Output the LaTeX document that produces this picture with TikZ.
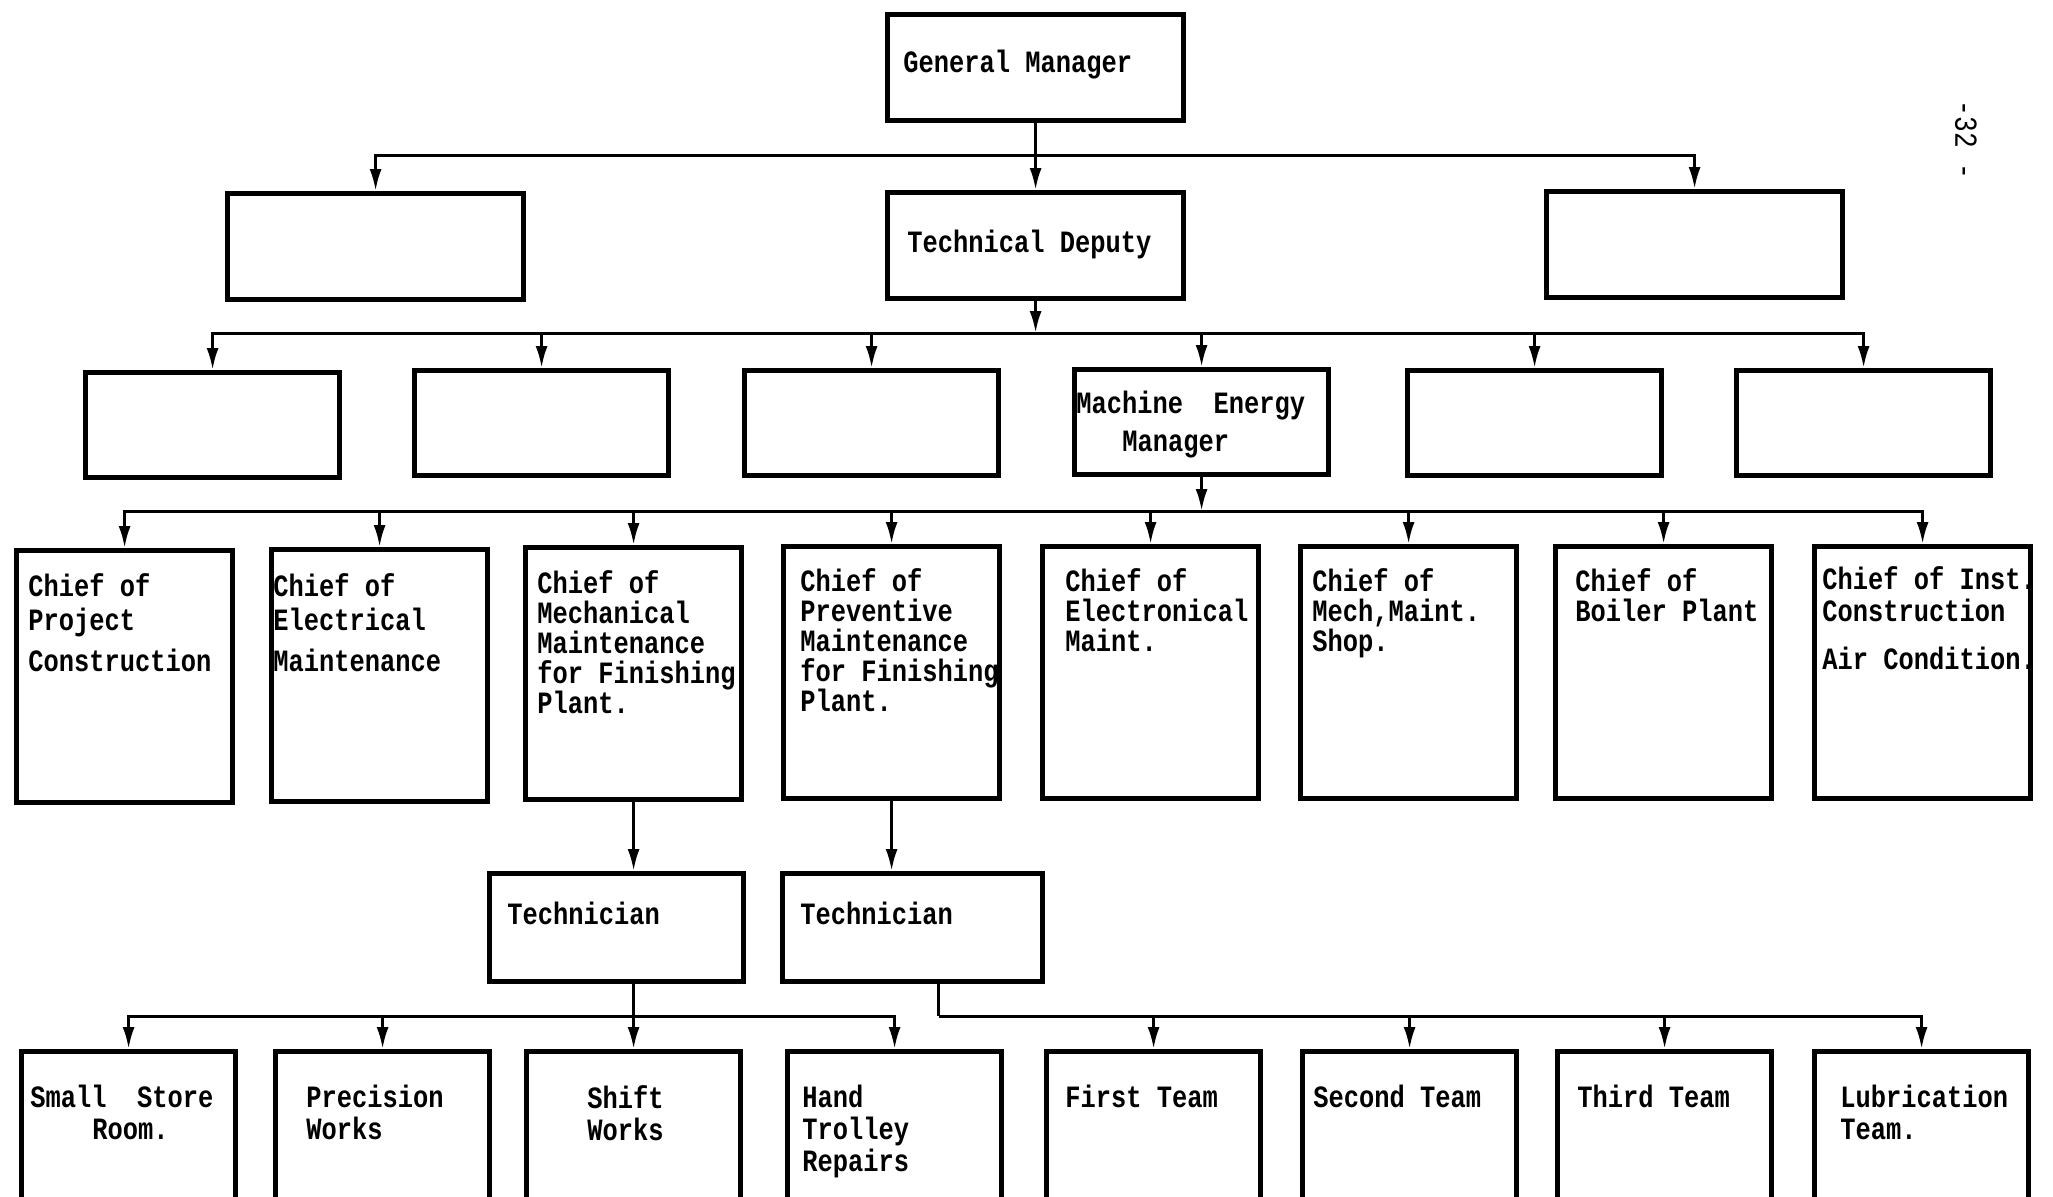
\documentclass[tikz,border=0pt]{standalone}
\usepackage{fontspec}
\newfontfamily\orgfont[FakeStretch=0.82]{Liberation Mono}
\usetikzlibrary{arrows.meta,positioning}

\begin{document}
\begin{tikzpicture}[x=0.5pt,y=-0.5pt,
		box/.style={draw,line width=2.6pt,anchor=north west,inner sep=0pt},
		gmbox/.style={box,minimum width=148pt,minimum height=53pt},
		dept/.style={box,minimum width=127pt,minimum height=52.5pt},
		chief/.style={box,minimum width=108pt,minimum height=126pt},
		techbox/.style={box,minimum width=127pt,minimum height=54pt},
		teambox/.style={box,minimum width=107pt,minimum height=100pt},
		txt/.style={anchor=north west,inner sep=0pt,align=left,font=\orgfont\bfseries\fontsize{15.5}{15}\selectfont},
		pagenum/.style={rotate=-90,inner sep=0pt,font=\orgfont\fontsize{16}{16}\selectfont},
		link/.style={line width=1.5pt,-{Latex[length=11pt,width=6pt]}},
		bar/.style={line width=1.5pt}]
	\useasboundingbox (0,0) rectangle (2053,1196);
	\clip (0,0) rectangle (2053,1196);
	\node [gmbox] (gm) at (885,12) {};
	\node [txt] (gm-t) at (903,50) {General Manager};
	\node [gmbox] (l) at (225,191) {};
	\node [gmbox] (td) at (885,190) {};
	\node [txt] (td-t) at (907,230) {Technical Deputy};
	\node [gmbox] (r) at (1544,189) {};
	\node [dept] (d1) at (83,370) {};
	\node [dept] (d2) at (412,368) {};
	\node [dept] (d3) at (742,368) {};
	\node [dept] (mem) at (1072,367) {};
	\node [txt] (mem-t) at (1076,391) {Machine~~Energy\\[4pt]\hspace*{23pt}Manager};
	\node [dept] (d5) at (1405,368) {};
	\node [dept] (d6) at (1734,368) {};
	\node [chief] (c1) at (14,548) {};
	\node [txt] (c1-t) at (28,573) {Chief of\\[2pt]Project\\[5.5pt]Construction};
	\node [chief] (c2) at (269,547) {};
	\node [txt] (c2-t) at (273,573) {Chief of\\[2pt]Electrical\\[5.5pt]Maintenance};
	\node [chief] (c3) at (523,545) {};
	\node [txt] (c3-t) at (537,570) {Chief of\\Mechanical\\Maintenance\\for Finishing\\Plant.};
	\node [chief] (c4) at (781,544) {};
	\node [txt] (c4-t) at (800,568) {Chief of\\Preventive\\Maintenance\\for Finishing\\Plant.};
	\node [chief] (c5) at (1040,544) {};
	\node [txt] (c5-t) at (1065,568) {Chief of\\Electronical\\Maint.};
	\node [chief] (c6) at (1298,544) {};
	\node [txt] (c6-t) at (1312,568) {Chief of\\Mech,Maint.\\Shop.};
	\node [chief] (c7) at (1553,544) {};
	\node [txt] (c7-t) at (1575,568) {Chief of\\Boiler Plant};
	\node [chief] (c8) at (1812,544) {};
	\node [txt] (c8-t) at (1822,566) {Chief of Inst.\\[1pt]Construction\\[9pt]Air Condition.};
	\node [techbox] (t1) at (487,871) {};
	\node [txt] (t1-t) at (507,902) {Technician};
	\node [techbox,minimum width=130pt] (t2) at (780,871) {};
	\node [txt] (t2-t) at (800,902) {Technician};
	\node [teambox] (w1) at (19,1049) {};
	\node [txt] (w1-t) at (30,1085) {Small~~Store\\[1pt]\hspace*{31pt}Room.};
	\node [teambox] (w2) at (273,1049) {};
	\node [txt] (w2-t) at (306,1085) {Precision\\[1pt]Works};
	\node [teambox] (w3) at (524,1049) {};
	\node [txt] (w3-t) at (587,1085) {Shift\\[1pt]Works};
	\node [teambox] (w4) at (785,1049) {};
	\node [txt] (w4-t) at (802,1085) {Hand\\[1pt]Trolley\\[1pt]Repairs};
	\node [teambox] (w5) at (1044,1049) {};
	\node [txt] (w5-t) at (1065,1085) {First Team};
	\node [teambox] (w6) at (1300,1049) {};
	\node [txt] (w6-t) at (1313,1085) {Second Team};
	\node [teambox] (w7) at (1555,1049) {};
	\node [txt] (w7-t) at (1577,1085) {Third Team};
	\node [teambox] (w8) at (1812,1049) {};
	\node [txt] (w8-t) at (1840,1085) {Lubrication\\[1pt]Team.};
	\node [pagenum] (pg) at (1966,140) {-32 -};
	\coordinate (bus1) at (0,155);
	\coordinate (bus2) at (0,333);
	\coordinate (bus3) at (0,511);
	\coordinate (bus5) at (0,1016);
	\draw [link] (gm) -- (td);
	\draw [link] (gm.south |- bus1) -| (l.north);
	\draw [link] (gm.south |- bus1) -| (r.north);
	\draw [link] (td.south) -- (td.south |- bus2);
	\draw [link] (td.south |- bus2) -| (d1.north);
	\draw [link] (td.south |- bus2) -| (d2.north);
	\draw [link] (td.south |- bus2) -| (d3.north);
	\draw [link] (td.south |- bus2) -| (mem.north);
	\draw [link] (td.south |- bus2) -| (d5.north);
	\draw [link] (td.south |- bus2) -| (d6.north);
	\draw [link] (mem.south) -- (mem.south |- bus3);
	\draw [link] (mem.south |- bus3) -| (c1.north);
	\draw [link] (mem.south |- bus3) -| (c2.north);
	\draw [link] (mem.south |- bus3) -| (c3.north);
	\draw [link] (mem.south |- bus3) -| (c4.north);
	\draw [link] (mem.south |- bus3) -| (c5.north);
	\draw [link] (mem.south |- bus3) -| (c6.north);
	\draw [link] (mem.south |- bus3) -| (c7.north);
	\draw [link] (mem.south |- bus3) -| (c8.north);
	\draw [link] (c3.south) -- (c3.south |- t1.north);
	\draw [link] (c4.south) -- (c4.south |- t2.north);
	\draw [link] (t1.south -| w3.north) -- (w3.north);
	\draw [link] (w3.north |- bus5) -| (w1.north);
	\draw [link] (w3.north |- bus5) -| (w2.north);
	\draw [link] (w3.north |- bus5) -| (w4.north);
	\draw [bar] ([xshift=13pt]t2.south) -- ([xshift=13pt]t2.south |- bus5);
	\draw [link] ([xshift=13pt]t2.south |- bus5) -| (w5.north);
	\draw [link] ([xshift=13pt]t2.south |- bus5) -| (w6.north);
	\draw [link] ([xshift=13pt]t2.south |- bus5) -| (w7.north);
	\draw [link] ([xshift=13pt]t2.south |- bus5) -| (w8.north);
\end{tikzpicture}
\end{document}
